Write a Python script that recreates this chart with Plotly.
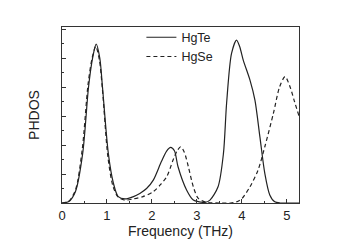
import plotly.graph_objects as go

hgte_x = [0, 0.15, 0.3, 0.46, 0.59, 0.68, 0.76, 0.84, 0.9, 1.03, 1.14, 1.25, 1.4, 1.59, 1.73, 1.88, 2.03, 2.21, 2.33, 2.415, 2.5, 2.58, 2.77, 2.92, 3.05, 3.18, 3.29, 3.47, 3.59, 3.66, 3.77, 3.88, 3.95, 4.03, 4.18, 4.29, 4.4, 4.51, 4.62, 4.73, 4.85, 5.0, 5.27]
hgte_y = [0, 0.05, 0.4, 1.71, 4.0, 5.0, 5.48, 5.0, 4.0, 1.71, 0.7, 0.22, 0.14, 0.22, 0.33, 0.5, 0.79, 1.43, 1.8, 1.92, 1.8, 1.25, 0.45, 0.1, 0.04, 0.02, 0.1, 0.56, 1.71, 3.44, 5.16, 5.62, 5.4, 4.93, 4.24, 3.55, 2.29, 1.02, 0.28, 0.04, 0.0, 0.0, 0.0]

hgse_x = [0, 0.15, 0.3, 0.45, 0.58, 0.67, 0.75, 0.83, 0.9, 1.02, 1.13, 1.25, 1.4, 1.58, 1.8, 2.03, 2.2, 2.33, 2.47, 2.56, 2.64, 2.72, 2.81, 2.92, 3.03, 3.2, 3.5, 3.75, 3.88, 4.0, 4.18, 4.36, 4.51, 4.7, 4.84, 4.96, 5.07, 5.17, 5.27]
hgse_y = [0, 0.06, 0.45, 1.85, 4.1, 5.0, 5.4, 4.95, 3.9, 1.6, 0.6, 0.2, 0.1, 0.14, 0.22, 0.39, 0.65, 0.91, 1.48, 1.8, 1.94, 1.75, 1.25, 0.56, 0.16, 0.03, 0.0, 0.0, 0.04, 0.15, 0.56, 1.14, 1.94, 3.09, 4.01, 4.36, 4.01, 3.5, 3.0]

x_ticks = [0, 1, 2, 3, 4, 5]

fig = go.Figure()
fig.add_trace(go.Scatter(x=hgte_x, y=hgte_y, mode="lines", name="HgTe",
                         line=dict(color="#222222", width=1.2, shape="spline", smoothing=0.8)))
fig.add_trace(go.Scatter(x=hgse_x, y=hgse_y, mode="lines", name="HgSe",
                         line=dict(color="#222222", width=1.2, dash="4px,3px", shape="spline", smoothing=0.8)))

font = "Liberation Sans, Arial, sans-serif"
# page body has an 8px default margin, so the figure is 8px smaller and margins shifted
fig.update_layout(
    width=340, height=236,
    margin=dict(l=54, r=49, t=19, b=41, autoexpand=False),
    paper_bgcolor="white", plot_bgcolor="white",
    font=dict(family=font, size=13, color="#222222"),
    showlegend=True,
    legend=dict(x=0.335, y=1.025, xanchor="left", yanchor="top", bgcolor="rgba(0,0,0,0)",
                font=dict(size=12.5), tracegroupgap=0, itemwidth=30),
    xaxis=dict(range=[0, 5.27], tickmode="array", tickvals=x_ticks, ticktext=[str(t) for t in x_ticks],
               ticks="inside", ticklen=4, tickcolor="#333", showgrid=False, zeroline=False,
               showline=True, linecolor="#333", linewidth=1, mirror=True, automargin=False,
               minor=dict(ticks="inside", dtick=0.5, ticklen=2, tickcolor="#333"),
               title=dict(text="Frequency (THz)", standoff=4, font=dict(size=14)),
               tickfont=dict(size=13)),
    yaxis=dict(range=[0, 6.07], dtick=1, tick0=0, ticks="inside", ticklen=4, tickcolor="#333",
               showticklabels=False, showgrid=False, zeroline=False, automargin=False,
               showline=True, linecolor="#333", linewidth=1, mirror=True,
               minor=dict(ticks="inside", dtick=0.5, ticklen=2, tickcolor="#333"),
               title=dict(text="PHDOS", standoff=18, font=dict(size=14))),
)

fig.write_html("out.html")
